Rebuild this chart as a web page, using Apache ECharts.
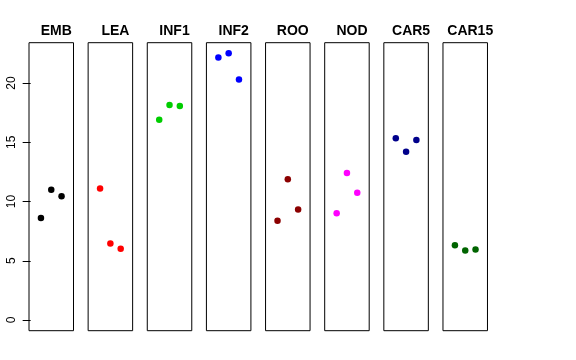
<!DOCTYPE html>
<html><head><meta charset="utf-8">
<script src="https://cdn.jsdelivr.net/npm/echarts@6/dist/echarts.min.js"></script>
<style>html,body{margin:0;padding:0;background:#fff}#c{width:576px;height:360px}</style>
</head><body><div id="c"></div>
<script>
var categories = ['EMB','LEA','INF1','INF2','ROO','NOD','CAR5','CAR15'];
var colors = ['#000000','#ff0000','#00cd00','#0000ff','#8b0000','#ff00ff','#00008b','#006400'];
var EMB = [8.6, 11.0, 10.45];
var LEA = [11.1, 6.46, 6.02];
var INF1 = [16.9, 18.14, 18.06];
var INF2 = [22.16, 22.5, 20.3];
var ROO = [8.38, 11.87, 9.33];
var NOD = [9.0, 12.4, 10.74];
var CAR5 = [15.33, 14.2, 15.2];
var CAR15 = [6.3, 5.87, 5.96];
var seriesValues = [EMB, LEA, INF1, INF2, ROO, NOD, CAR5, CAR15];
var xPositions = [1, 2, 3];
var yTicks = [0, 5, 10, 15, 20];

var chart = echarts.init(document.getElementById('c'), null, {renderer:'canvas'});
var grids = [], xAxes = [], yAxes = [], series = [], titles = [];
var L0 = 29, STEP = 59.14, W = 44.5, TOP = 42.7, H = 288;
categories.forEach(function(cat, i){
  var left = L0 + i*STEP;
  grids.push({left: left, top: TOP, width: W, height: H, show: true, borderColor: '#000', borderWidth: 1, backgroundColor: 'transparent', containLabel: false});
  xAxes.push({gridIndex: i, type: 'value', min: -0.16, max: 4.16, show: false});
  yAxes.push({gridIndex: i, type: 'value', min: -0.9, max: 23.4, show: i === 0,
    splitLine: {show: false},
    axisLine: {show: false},
    axisTick: {show: true, length: 8, lineStyle: {color: '#000'}, customValues: yTicks},
    axisLabel: {show: true, rotate: 90, margin: 11, color: '#000', fontSize: 12, fontFamily: 'Liberation Sans, Arial, sans-serif', customValues: yTicks}
  });
  titles.push({text: cat, left: left + W/2, top: 19, textAlign: 'center',
    textStyle: {fontSize: 14, fontWeight: 'bold', color: '#000', fontFamily: 'Liberation Sans, Arial, sans-serif'}});
  series.push({type: 'scatter', xAxisIndex: i, yAxisIndex: i, symbol: 'circle', symbolSize: 6.5,
    itemStyle: {color: colors[i], opacity: 1}, silent: true,
    data: seriesValues[i].map(function(v, j){ return [xPositions[j], v]; })});
});
chart.setOption({animation: false, title: titles, grid: grids, xAxis: xAxes, yAxis: yAxes, series: series});
</script></body></html>
